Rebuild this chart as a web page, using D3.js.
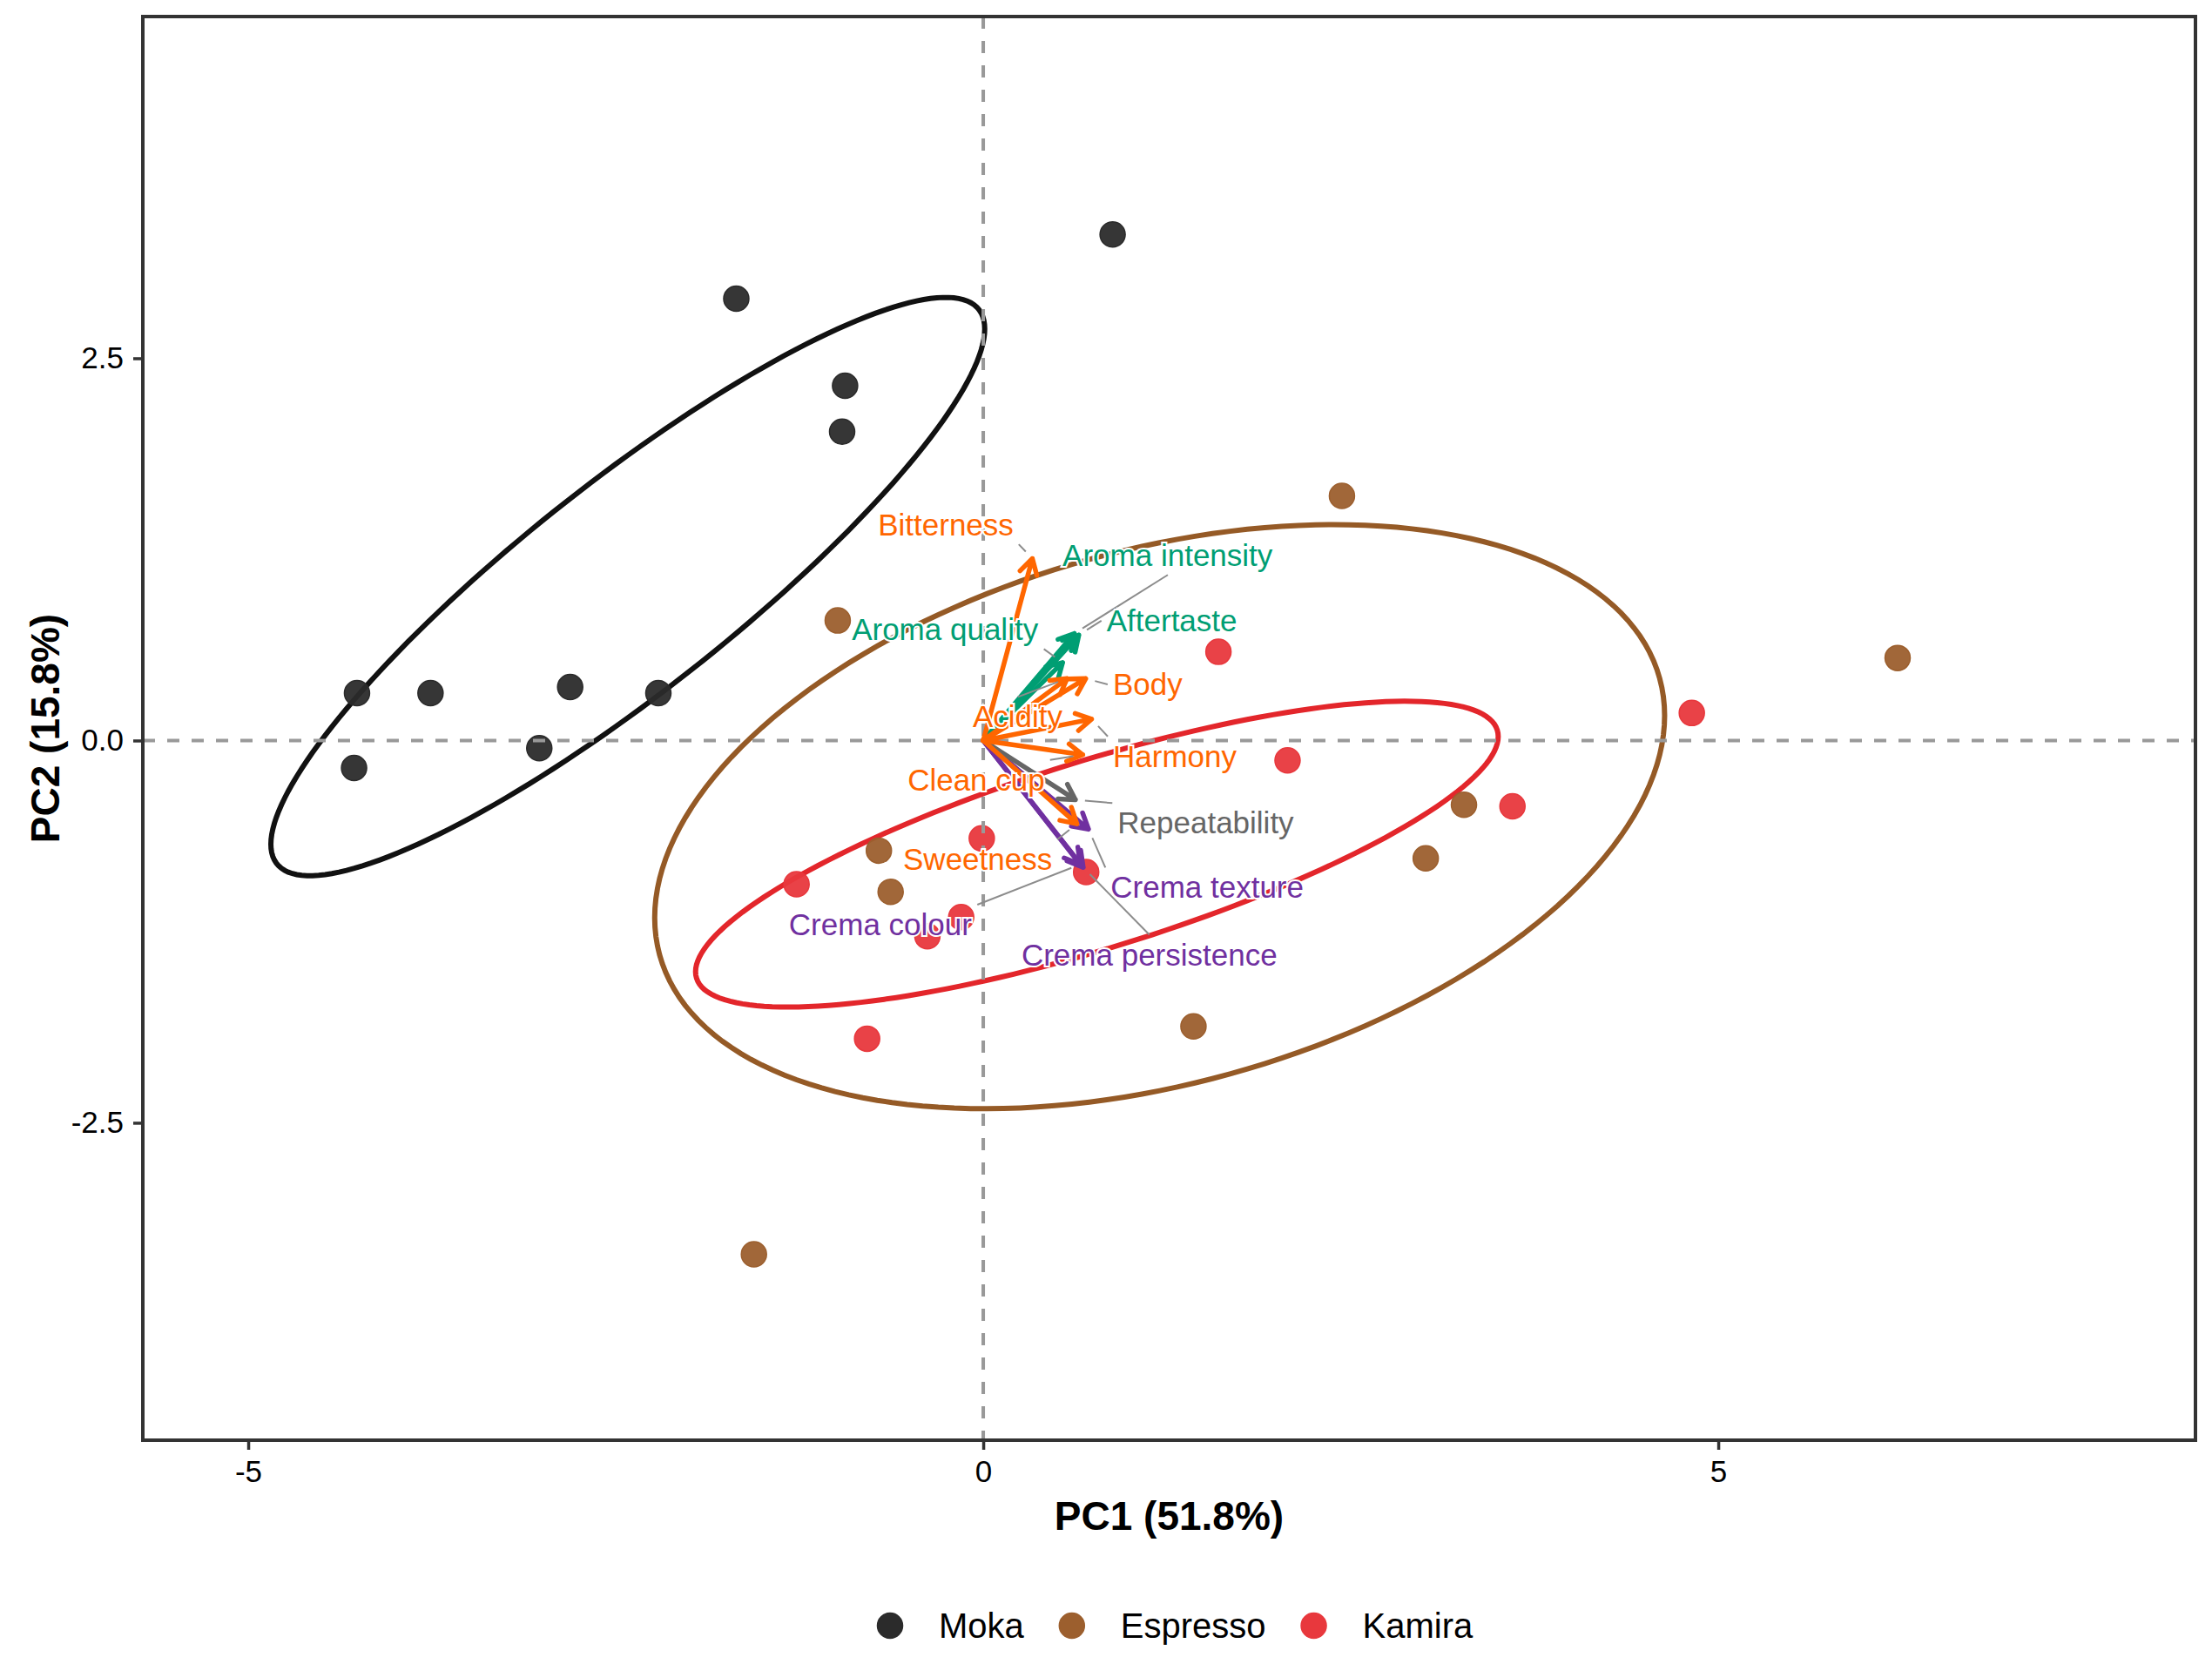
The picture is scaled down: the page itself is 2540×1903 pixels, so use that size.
<!DOCTYPE html>
<html>
<head>
<meta charset="utf-8">
<script src="https://cdn.jsdelivr.net/npm/d3@7"></script>
<style>
  body { margin: 0; background: #fff; }
  svg text { font-family: "Liberation Sans", Arial, Helvetica, sans-serif; }
</style>
</head>
<body>
<div id="chart"></div>
<script>

// groups (samples)
var groups = ["Moka", "Espresso", "Kamira"];
var groupFill = ["#2b2b2b", "#9c5f2e", "#e8383d"];
var groupLine = ["#111111", "#955a26", "#e3262b"];

// individual scores, PC1 / PC2
var mokaX = [0.88, -1.68, -0.94, -0.96, -4.26, -3.76, -2.81, -2.21, -3.02, -4.28];
var mokaY = [3.31, 2.89, 2.32, 2.02, 0.31, 0.31, 0.35, 0.31, -0.05, -0.18];
var espressoX = [2.44, 6.22, -0.99, 3.27, 3.01, -0.71, -0.63, 1.43, -1.56];
var espressoY = [1.60, 0.54, 0.785, -0.42, -0.77, -0.72, -0.99, -1.87, -3.36];
var kamiraX = [4.82, 1.60, 2.07, 3.60, -0.01, 0.70, -1.27, -0.15, -0.38, -0.79];
var kamiraY = [0.18, 0.58, -0.13, -0.43, -0.64, -0.86, -0.94, -1.155, -1.28, -1.95];

// confidence ellipses: centre, half extents, correlation
var ellCx = [-2.418, 1.20, 0.773];
var ellCy = [1.007, -0.498, -0.743];
var ellRx = [2.428, 3.435, 2.73];
var ellRy = [1.891, 1.91, 1.00];
var ellRho = [0.891, 0.346, 0.769];

// variable loadings (arrows)
var variables = ["Bitterness", "Aroma intensity", "Aftertaste", "Aroma quality", "Body", "Acidity",
  "Harmony", "Clean cup", "Repeatability", "Sweetness", "Crema texture", "Crema colour", "Crema persistence"];
var varKind = ["taste", "aroma", "aroma", "aroma", "taste", "taste",
  "taste", "taste", "other", "taste", "crema", "crema", "crema"];
var loadX = [0.334, 0.62, 0.65, 0.54, 0.697, 0.57, 0.737, 0.677, 0.627, 0.637, 0.716, 0.66, 0.68];
var loadY = [1.19, 0.70, 0.69, 0.51, 0.405, 0.405, 0.14, -0.093, -0.387, -0.545, -0.58, -0.81, -0.83];
// repelled label positions
var labelX = [-0.255, 1.254, 1.283, -0.26, 1.118, 0.234, 1.303, -0.048, 1.513, -0.038, 1.523, -0.70, 1.13];
var labelY = [1.41, 1.21, 0.782, 0.725, 0.366, 0.156, -0.103, -0.257, -0.539, -0.776, -0.96, -1.203, -1.40];

var kindColor = { taste: "#ff6600", aroma: "#009e73", other: "#666666", crema: "#7030a0" };
var drawOrder = ["crema", "other", "aroma", "taste"];

var xTicks = [-5, 0, 5];
var yTicks = [-2.5, 0, 2.5];
var xDomain = [-5.717, 8.246];
var yDomain = [-4.576, 4.735];

var width = 2540, height = 1903;
var margin = { top: 19, right: 19, bottom: 249, left: 164 };

var svg = d3.select("#chart").append("svg")
  .attr("width", width)
  .attr("height", height);

var x = d3.scaleLinear().domain(xDomain).range([margin.left, width - margin.right]);
var y = d3.scaleLinear().domain(yDomain).range([height - margin.bottom, margin.top]);

var scoreX = [mokaX, espressoX, kamiraX];
var scoreY = [mokaY, espressoY, kamiraY];

// ellipses
var ts = d3.range(0, 361, 2).map(function(d) { return d * Math.PI / 180; });
var ellLine = d3.line();
groups.forEach(function(g, i) {
  var pts = ts.map(function(t) {
    var ex = ellCx[i] + ellRx[i] * Math.cos(t);
    var ey = ellCy[i] + ellRy[i] * (ellRho[i] * Math.cos(t) + Math.sqrt(1 - ellRho[i] * ellRho[i]) * Math.sin(t));
    return [x(ex), y(ey)];
  });
  svg.append("path")
    .attr("d", ellLine(pts) + "Z")
    .attr("fill", "none")
    .attr("stroke", groupLine[i])
    .attr("stroke-width", 6);
});

// points
groups.forEach(function(g, i) {
  svg.append("g").selectAll("circle")
    .data(d3.range(scoreX[i].length))
    .enter()
    .append("circle")
    .attr("cx", function(k) { return x(scoreX[i][k]); })
    .attr("cy", function(k) { return y(scoreY[i][k]); })
    .attr("r", 14.5)
    .attr("fill", groupFill[i])
    .attr("fill-opacity", 0.95)
    .attr("stroke", groupFill[i])
    .attr("stroke-width", 1.5);
});

// reference lines
svg.append("line")
  .attr("x1", x(0)).attr("x2", x(0))
  .attr("y1", y(yDomain[1])).attr("y2", y(yDomain[0]))
  .attr("stroke", "#999").attr("stroke-width", 4).attr("stroke-dasharray", "14,14");
svg.append("line")
  .attr("x1", x(xDomain[0])).attr("x2", x(xDomain[1]))
  .attr("y1", y(0)).attr("y2", y(0))
  .attr("stroke", "#999").attr("stroke-width", 4).attr("stroke-dasharray", "14,14");

// arrows
var idx = d3.range(variables.length).sort(function(a, b) {
  return drawOrder.indexOf(varKind[a]) - drawOrder.indexOf(varKind[b]);
});
var head = 20, ang = Math.PI / 6;
idx.forEach(function(i) {
  var x0 = x(0), y0 = y(0), x1 = x(loadX[i]), y1 = y(loadY[i]);
  var a = Math.atan2(y1 - y0, x1 - x0);
  var p = "M" + x0 + "," + y0 + "L" + x1 + "," + y1 +
    "M" + (x1 - head * Math.cos(a - ang)) + "," + (y1 - head * Math.sin(a - ang)) +
    "L" + x1 + "," + y1 +
    "L" + (x1 - head * Math.cos(a + ang)) + "," + (y1 - head * Math.sin(a + ang));
  svg.append("path")
    .attr("d", p)
    .attr("fill", "none")
    .attr("stroke", kindColor[varKind[i]])
    .attr("stroke-width", 5.5)
    .attr("stroke-linecap", "round")
    .attr("stroke-linejoin", "round");
});

// labels with connectors (edge midpoint or corner of the label box, like ggrepel)
var segLayer = svg.append("g");
var labLayer = svg.append("g");
variables.forEach(function(v, i) {
  var t = labLayer.append("text")
    .attr("x", x(labelX[i]))
    .attr("y", y(labelY[i]))
    .attr("dy", "0.35em")
    .attr("text-anchor", "middle")
    .style("font-size", "35px")
    .attr("fill", kindColor[varKind[i]])
    .attr("stroke", "#fff")
    .attr("stroke-width", 4)
    .attr("paint-order", "stroke")
    .text(v);
  var bb = t.node().getBBox();
  var pad = 6;
  var bx1 = bb.x - pad, bx2 = bb.x + bb.width + pad, by1 = bb.y - pad + 3, by2 = bb.y + bb.height + pad - 3;
  var tx = x(loadX[i]), ty = y(loadY[i]);
  var sx = tx < bx1 ? bx1 : (tx > bx2 ? bx2 : (bx1 + bx2) / 2);
  var sy = ty < by1 ? by1 : (ty > by2 ? by2 : (by1 + by2) / 2);
  var dx = tx - sx, dy = ty - sy, len = Math.sqrt(dx * dx + dy * dy);
  if (len > 20) {
    var ex = tx - dx / len * 11, ey = ty - dy / len * 11;
    segLayer.append("line")
      .attr("x1", sx).attr("y1", sy).attr("x2", ex).attr("y2", ey)
      .attr("stroke", "#8c8c8c").attr("stroke-width", 2);
  }
});

// panel border
svg.append("rect")
  .attr("x", x(xDomain[0])).attr("y", y(yDomain[1]))
  .attr("width", x(xDomain[1]) - x(xDomain[0]))
  .attr("height", y(yDomain[0]) - y(yDomain[1]))
  .attr("fill", "none").attr("stroke", "#333").attr("stroke-width", 4);

// axes
var xAxis = svg.append("g")
  .attr("transform", "translate(0," + y(yDomain[0]) + ")")
  .call(d3.axisBottom(x).tickValues(xTicks).tickSize(11).tickPadding(12)
    .tickFormat(function(d) { return String(d); }));
var yAxis = svg.append("g")
  .attr("transform", "translate(" + x(xDomain[0]) + ",0)")
  .call(d3.axisLeft(y).tickValues(yTicks).tickSize(11).tickPadding(11)
    .tickFormat(function(d) { return d.toFixed(1); }));
[xAxis, yAxis].forEach(function(ax) {
  ax.select(".domain").remove();
  ax.selectAll(".tick line").attr("stroke", "#333").attr("stroke-width", 3.5);
  ax.selectAll(".tick text").attr("fill", "#000").style("font-size", "35px")
    .style("font-family", "'Liberation Sans', Arial, sans-serif");
});

// axis titles
var plotMidX = (x(xDomain[0]) + x(xDomain[1])) / 2;
var plotMidY = (y(yDomain[0]) + y(yDomain[1])) / 2;
svg.append("text")
  .attr("x", plotMidX).attr("y", 1757)
  .attr("text-anchor", "middle")
  .style("font-size", "46px").style("font-weight", "bold")
  .text("PC1 (51.8%)");
svg.append("text")
  .attr("transform", "translate(68," + plotMidY + ") rotate(-90)")
  .attr("text-anchor", "middle")
  .style("font-size", "46px").style("font-weight", "bold")
  .text("PC2 (15.8%)");

// legend
var legend = svg.append("g").attr("transform", "translate(0,1867)");
var lx = 1022;
groups.forEach(function(g, i) {
  legend.append("circle")
    .attr("cx", lx).attr("cy", 0).attr("r", 14.5)
    .attr("fill", groupFill[i]).attr("stroke", groupFill[i]).attr("stroke-width", 1.5);
  var t = legend.append("text")
    .attr("x", lx + 56).attr("y", 0).attr("dy", "0.36em")
    .style("font-size", "40px")
    .text(g);
  lx = lx + 56 + t.node().getComputedTextLength() + 55;
});

</script>
</body>
</html>
